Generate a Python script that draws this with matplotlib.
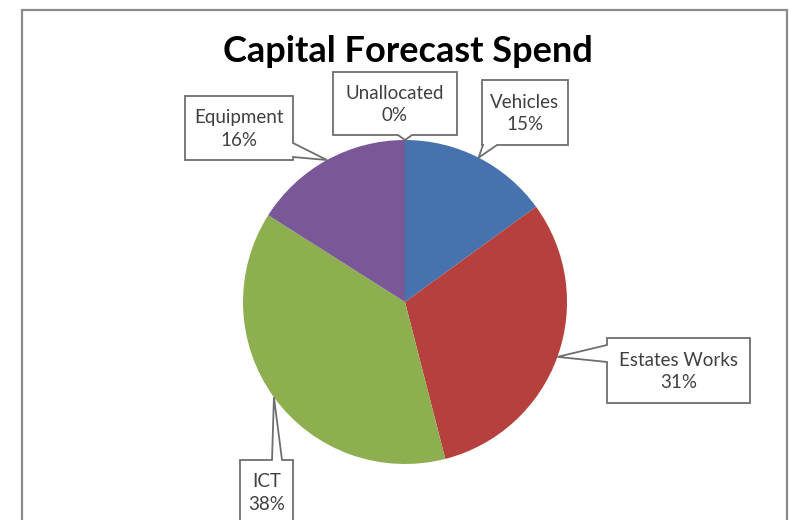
import numpy as np
import matplotlib
matplotlib.use("Agg")
import matplotlib.pyplot as plt
from matplotlib.patches import Polygon, Rectangle

# ---- data ----
categories = ["Vehicles", "Estates Works", "ICT", "Equipment", "Unallocated"]
values = [15, 31, 38, 16, 0]
pct_labels = ["15%", "31%", "38%", "16%", "0%"]
colors = ["#4672AD", "#B6403D", "#8DAF4F", "#7A5898", "#F79646"]
title = "Capital Forecast Spend"

W, H = 789, 520
fig = plt.figure(figsize=(W / 100, H / 100), dpi=100)
ax = fig.add_axes([0, 0, 1, 1])

def P(x, y):
    return (x, H - y)

cx, cy, r = 405, 302, 162
wedges, _ = ax.pie(values, colors=colors, startangle=90, counterclock=False,
                   center=P(cx, cy), radius=r, wedgeprops=dict(linewidth=0),
                   frame=True)
ax.set_xlim(0, W)
ax.set_ylim(0, H)
ax.set_aspect("equal")
ax.axis("off")

# outer frame
ax.add_patch(Rectangle(P(22, 560), 765, 550, fill=False, ec="#8a8a8a", lw=1.6, zorder=1))

# callout boxes (layout): box (x0, y0, x1, y1), edge, b0, b1
layout = {
    "Vehicles": ((482, 80, 568, 145), "bottom", 483, 497),
    "Estates Works": ((607, 338, 750, 403), "left", 345, 362),
    "ICT": ((240, 460, 293, 540), "top", 272, 282),
    "Equipment": ((185, 96, 293, 160), "right", 143, 157),
    "Unallocated": ((333, 72, 457, 135), "bottom", 398, 412),
}

total = float(sum(values))
cum = 0.0
for cat, v, pl in zip(categories, values, pct_labels):
    mid = 90 - (cum + v / 2) / total * 360
    cum += v
    tx = cx + r * np.cos(np.radians(mid))
    ty = cy - r * np.sin(np.radians(mid))
    (x0, y0, x1, y1), edge, b0, b1 = layout[cat]
    tip = (tx, ty)
    TL, TR, BR, BL = (x0, y0), (x1, y0), (x1, y1), (x0, y1)
    if edge == "top":
        pts = [TL, (b0, y0), tip, (b1, y0), TR, BR, BL]
    elif edge == "right":
        pts = [TL, TR, (x1, b0), tip, (x1, b1), BR, BL]
    elif edge == "bottom":
        pts = [TL, TR, BR, (b1, y1), tip, (b0, y1), BL]
    else:
        pts = [TL, TR, BR, BL, (x0, b1), tip, (x0, b0)]
    ax.add_patch(Polygon([P(*p) for p in pts], closed=True, fc="white",
                         ec="#6e6e6e", lw=1.3, zorder=5))
    yc = (y0 + y1) / 2 if cat != "ICT" else 492
    ax.text(*P((x0 + x1) / 2, yc + 1), f"{cat}\n{pl}", ha="center", va="center",
            fontsize=13.5, family="Lato", color="#404040", linespacing=1.4,
            zorder=6)

ax.text(*P(408, 52), title, ha="center", va="center", fontsize=26,
        family="Lato", fontweight="bold", color="black", zorder=6)

fig.savefig("out.png", dpi=100, facecolor="white")
